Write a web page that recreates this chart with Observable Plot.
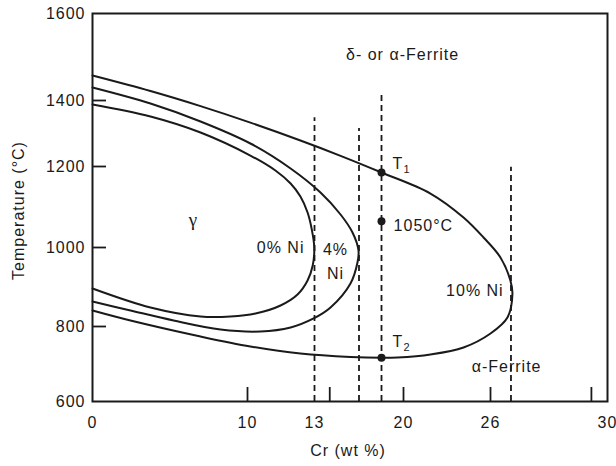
<!DOCTYPE html>
<html><head><meta charset="utf-8">
<script src="https://cdn.jsdelivr.net/npm/d3@7"></script>
<script src="https://cdn.jsdelivr.net/npm/@observablehq/plot@0.6"></script>
<style>body{margin:0;background:#fff}</style>
</head><body><div id="chart"></div>
<script>
// Axis ticks
const xTickValues = [0, 10, 13, 20, 26, 30];
const xTickMarks = [10, 14.2, 20, 26, 29.45];
const yTickValues = [600, 800, 1000, 1200, 1400, 1600];
const yTickMarks = [800, 1000, 1200, 1400];

// Gamma loop boundaries (Cr wt%, temperature °C)
const ni0Cr = [0, 3.74, 6.97, 10.13, 11.25, 11.93, 12.37, 12.69, 12.87, 12.99, 12.92, 12.69, 12.24, 11.48, 10.36, 8.9, 6.97, 3.74, 0];
const ni0T  = [1388, 1351.5, 1303, 1233.3, 1190.1, 1158, 1125.9, 1086.4, 1046.9, 1000, 954.4, 916.5, 881, 853.2, 832.9, 825.3, 825.3, 848.1, 896.2];
const ni4Cr = [0, 3.74, 6.97, 10.13, 11.93, 13.47, 15.05, 15.99, 16.46, 16.38, 15.83, 14.26, 12.96, 11.93, 10.58, 8.26, 5.23, 2.45, 0];
const ni4T  = [1429.9, 1390.9, 1336.4, 1269.7, 1195.1, 1135.8, 1081.5, 1037, 992.4, 962, 908.9, 848.1, 820.3, 797.3, 786.7, 792, 815.2, 840.5, 863.3];
const ni10Cr = [0, 3.74, 6.97, 10.13, 12.37, 15.05, 18.27, 21.86, 24.14, 25.52, 26.34, 26.68, 26.75, 26.58, 26.0, 24.14, 21.86, 19.53, 18.27, 15.83, 12.37, 10.13, 6.97, 2.45, 0];
const ni10T  = [1457.5, 1421.8, 1383, 1333, 1278.8, 1232.4, 1185.2, 1133.3, 1074.1, 1024.7, 974.7, 916.5, 883.5, 822.8, 781.3, 744, 725.3, 717.3, 716.5, 718.7, 728, 746.7, 773.3, 815.2, 840.5];

// Dashed vertical guides
const guideCr = [13, 16.5, 18.27, 26.7];
const guideTop = [1348, 1315, 1416, 1198];

// Marked points (T1, 1050°C, T2)
const pointCr = [18.27, 18.27, 18.27];
const pointT = [1185, 1065, 717];

// Annotations
const startText = ["T", "1050°C", "T"];
const startCr = [19.14, 19.22, 19.14];
const startT = [1209, 1054, 760];
const subText = ["1", "2"];
const subCr = [19.14, 19.14];
const subT = [1209, 760];
const midText = ["δ- or α-Ferrite", "4%\nNi", "α-Ferrite"];
const midCr = [19.93, 14.65, 26.55];
const midT = [1511, 971, 701];
const gammaText = ["γ"];
const gammaCr = [6.52];
const gammaT = [1069];
const endText = ["0% Ni", "10% Ni"];
const endCr = [12.55, 26.45];
const endT = [999, 891];

const curves = [
  ...ni0Cr.map((c, i) => ({ni: "0% Ni", cr: c, t: ni0T[i]})),
  ...ni4Cr.map((c, i) => ({ni: "4% Ni", cr: c, t: ni4T[i]})),
  ...ni10Cr.map((c, i) => ({ni: "10% Ni", cr: c, t: ni10T[i]}))
];
const guides = guideCr.map((c, i) => ({cr: c, top: guideTop[i]}));
const points = pointCr.map((c, i) => ({cr: c, t: pointT[i]}));
const tbl = (txt, cr, t) => txt.map((s, i) => ({s, cr: cr[i], t: t[i]}));

const ink = "#1a1a1a";
const chart = Plot.plot({
  width: 616, height: 466,
  marginLeft: 92, marginRight: 9, marginTop: 13, marginBottom: 65,
  style: {fontFamily: "'Liberation Sans', Arial, sans-serif", fontSize: "16px", letterSpacing: "1px", color: ink, background: "#fff"},
  x: {type: "linear", domain: xTickValues, range: [92, 247, 314, 403, 490, 607]},
  y: {type: "linear", domain: yTickValues, range: [401, 326, 247, 166, 100, 13]},
  marks: [
    Plot.frame({stroke: ink, strokeWidth: 2}),
    Plot.tickX(xTickMarks, {x: d => d, insetTop: 374, stroke: ink, strokeWidth: 1.8}),
    Plot.tickY(yTickMarks, {y: d => d, insetRight: 501, stroke: ink, strokeWidth: 1.8}),
    Plot.axisX({ticks: xTickValues, tickSize: 0, tickPadding: 15, label: null, tickFormat: d => String(d)}),
    Plot.axisY({ticks: yTickValues, tickSize: 0, tickPadding: 7, label: null, tickFormat: d => String(d)}),
    Plot.text(["Cr (wt %)"], {frameAnchor: "bottom", dx: -2, dy: 54, text: d => d}),
    Plot.text(["Temperature (°C)"], {frameAnchor: "left", textAnchor: "middle", rotate: -90, dx: -74, dy: 3, text: d => d}),
    Plot.ruleX(guides, {x: "cr", y1: 600, y2: "top", stroke: ink, strokeWidth: 1.8, strokeDasharray: "6,4"}),
    Plot.line(curves, {x: "cr", y: "t", z: "ni", curve: "catmull-rom", stroke: ink, strokeWidth: 2}),
    Plot.dot(points, {x: "cr", y: "t", r: 4, fill: ink, stroke: "none"}),
    Plot.text(tbl(startText, startCr, startT), {x: "cr", y: "t", text: "s", textAnchor: "start", fill: ink}),
    Plot.text(tbl(subText, subCr, subT), {x: "cr", y: "t", text: "s", textAnchor: "start", dx: 11, dy: 6, fontSize: 11, fill: ink}),
    Plot.text(tbl(midText, midCr, midT), {x: "cr", y: "t", text: "s", textAnchor: "middle", lineHeight: 1.55, fill: ink}),
    Plot.text(tbl(gammaText, gammaCr, gammaT), {x: "cr", y: "t", text: "s", textAnchor: "middle", fontFamily: "'Liberation Serif', serif", fontSize: 19, fill: ink}),
    Plot.text(tbl(endText, endCr, endT), {x: "cr", y: "t", text: "s", textAnchor: "end", fill: ink})
  ]
});
document.getElementById("chart").append(chart);
</script>
</body></html>
